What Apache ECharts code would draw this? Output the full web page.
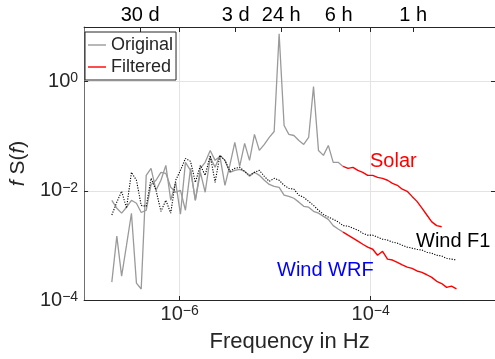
<!DOCTYPE html>
<html><head><meta charset="utf-8">
<script src="https://cdn.jsdelivr.net/npm/echarts@6.0.0/dist/echarts.min.js"></script>
<style>html,body{margin:0;padding:0;background:#fff}#c{width:495px;height:359px}</style>
</head><body><div id="c"></div>
<script>
// Frequency bins (Hz)
const freq = [1.95e-7,2.20e-7,2.47e-7,2.78e-7,3.13e-7,3.53e-7,3.96e-7,4.47e-7,5.02e-7,5.66e-7,
  6.37e-7,7.17e-7,8.07e-7,9.09e-7,1.02e-6,1.15e-6,1.30e-6,1.46e-6,1.65e-6,1.85e-6,
  2.09e-6,2.35e-6,2.64e-6,2.98e-6,3.35e-6,3.78e-6,4.25e-6,4.79e-6,5.39e-6,6.07e-6,
  6.83e-6,7.70e-6,8.67e-6,9.76e-6,1.10e-5,1.24e-5,1.39e-5,1.57e-5,1.77e-5,1.99e-5,
  2.24e-5,2.52e-5,2.84e-5,3.20e-5,3.60e-5,4.05e-5,4.56e-5,5.14e-5,5.79e-5,6.52e-5,
  7.34e-5,8.26e-5,9.30e-5,1.05e-4,1.18e-4,1.33e-4,1.50e-4,1.69e-4,1.90e-4,2.14e-4,
  2.41e-4,2.71e-4,3.05e-4,3.44e-4,3.87e-4,4.36e-4,4.91e-4,5.53e-4,6.23e-4,7.01e-4,7.90e-4];

// f S(f) values
const solarOriginal = [2.13e-4,1.48e-3,2.74e-4,1.01e-3,3.88e-3,2.04e-4,1.59e-4,1.92e-2,2.58e-2,1.02e-2,
  1.56e-2,2.92e-2,6.71e-3,1.43e-2,3.72e-3,3.32e-2,2.37e-2,6.71e-3,2.58e-2,3.32e-2,
  5.49e-2,3.61e-2,4.27e-2,1.26e-2,2.92e-2,7.69e-2,2.80e-2,7.37e-2,3.61e-2,0.108,
  5.49e-2,7.07e-2,9.49e-2,0.122,7.53,0.157,0.108,0.103,0.0837,0.0707,
  0.0949,0.810,0.0549,0.0445,0.0678,0.0332,0.0332,0.0280,null,null,
  null,null,null,null,null,null,null,null,null,null,
  null,null,null,null,null,null,null,null,null,null,null];

const solarFiltered = [null,null,null,null,null,null,null,null,null,null,
  null,null,null,null,null,null,null,null,null,null,
  null,null,null,null,null,null,null,null,null,null,
  null,null,null,null,null,null,null,null,null,null,
  null,null,null,null,null,null,null,0.0280,0.0258,0.0269,
  0.0237,0.0218,0.0192,0.0192,0.0176,0.0169,0.0156,0.0137,0.0126,0.0107,
  0.0098,0.0079,0.0064,0.0048,0.0036,0.0027,0.0023,0.0022,null,null,null];

const windOriginal = [0.0067,0.0048,0.0039,0.0050,0.0067,0.0059,0.0040,0.0044,0.0131,0.0156,
  0.0218,0.0209,0.0116,0.0094,0.0102,0.0044,0.0258,0.0067,0.0218,0.0094,
  0.0409,0.0269,0.0445,0.0361,0.0218,0.0237,0.0247,0.0227,0.0184,0.0218,
  0.0192,0.0156,0.0131,0.0121,0.0116,0.0083,0.0079,0.0073,0.0062,0.0052,
  0.0050,0.0042,0.0039,0.0034,0.0030,0.0023,0.0020,0.00175,null,null,
  null,null,null,null,null,null,null,null,null,null,
  null,null,null,null,null,null,null,null,null,null,null];

const windFiltered = [null,null,null,null,null,null,null,null,null,null,
  null,null,null,null,null,null,null,null,null,null,
  null,null,null,null,null,null,null,null,null,null,
  null,null,null,null,null,null,null,null,null,null,
  null,null,null,null,null,null,null,0.00175,0.00154,0.00136,
  0.00120,0.00105,0.00093,0.00085,0.00066,0.00078,0.00056,0.00054,0.00049,0.00044,
  0.00040,0.00038,0.00034,0.00032,0.00029,0.00026,0.00022,0.00020,0.00017,0.00018,0.00016];

const windF1 = [0.0036,0.0062,0.0098,0.0048,0.0218,0.0156,0.0054,0.0052,0.0169,0.0102,
  0.0042,0.0067,0.0039,0.0156,0.0237,0.0392,0.0346,0.0143,0.0292,0.0192,
  0.0445,0.0143,0.0445,0.0361,0.0227,0.0258,0.0269,0.0227,0.0192,0.0218,
  0.0237,0.0184,0.0149,0.0169,0.0156,0.0126,0.0111,0.0107,0.0083,0.0076,
  0.0064,0.0054,0.0044,0.0037,0.0033,0.0030,0.0027,0.0023,0.00225,0.00207,
  0.0019,0.00167,0.00154,0.00154,0.00142,0.00130,0.00125,0.00115,0.00110,0.00101,
  0.00093,0.00089,0.00085,0.00082,0.00075,0.00072,0.00066,0.00064,0.00058,0.00056,0.00054];

// Tick positions / labels
const bottomTicks = [1e-6, 1e-4];
const leftTicks = [1e-4, 1e-2, 1];
const topTickFreq = [3.858e-7, 3.858e-6, 1.157e-5, 4.630e-5, 2.778e-4];
const topTickLabels = ['30 d', '3 d', '24 h', '6 h', '1 h'];

const FONT = '"Liberation Sans", Arial, Helvetica, sans-serif';
const TXT = '#262626';
const pairs = arr => freq.map((f, i) => [f, arr[i]]).filter(p => p[1] != null);
const supLabel = v => {
  const e = Math.round(Math.log10(v));
  return '{a|10}{b|' + (e < 0 ? '\u2212' + (-e) : String(e)) + '}';
};
const rich = {
  a: {fontSize: 20, fontFamily: FONT, color: TXT, lineHeight: 20},
  b: {fontSize: 14, fontFamily: FONT, color: TXT, lineHeight: 14, verticalAlign: 'top'}
};
const topLabel = v => {
  let best = 0, bd = Infinity;
  topTickFreq.forEach((f, i) => { const d = Math.abs(Math.log10(f) - Math.log10(v)); if (d < bd) { bd = d; best = i; } });
  return topTickLabels[best];
};

const chart = echarts.init(document.getElementById('c'), null, {renderer: 'canvas'});
chart.setOption({
  animation: false,
  backgroundColor: '#fff',
  grid: {left: 80, right: -1, top: 27, bottom: 59, containLabel: false},
  legend: {
    data: [{name: 'Original', icon: 'rect'}, {name: 'Filtered', icon: 'rect'}],
    orient: 'vertical', left: 85, top: 32,
    padding: [3, 3, 3, 3], itemWidth: 18, itemHeight: 1.4, itemGap: 2,
    borderColor: TXT, borderWidth: 1, borderRadius: 0, backgroundColor: '#fff', selectedMode: false,
    textStyle: {fontSize: 18, fontFamily: FONT, color: TXT, lineHeight: 20}
  },
  xAxis: [{
    type: 'log', logBase: 10, min: 1e-7, max: 2e-3, position: 'bottom',
    name: 'Frequency in Hz', nameLocation: 'middle', nameGap: 31,
    nameTextStyle: {fontSize: 22, fontFamily: FONT, color: TXT},
    axisLine: {show: true, lineStyle: {color: TXT, width: 1}},
    axisTick: {show: true, inside: true, length: 4, customValues: bottomTicks, lineStyle: {color: TXT}},
    axisLabel: {customValues: bottomTicks, margin: 4, formatter: supLabel, rich: rich},
    splitLine: {show: true, lineStyle: {color: '#e3e3e3', width: 1}},
    minorTick: {show: false}
  }, {
    type: 'log', logBase: 10, min: 1e-7, max: 2e-3, position: 'top',
    axisLine: {show: true, lineStyle: {color: TXT, width: 1}},
    axisTick: {show: true, inside: true, length: 5, customValues: topTickFreq.concat(bottomTicks), lineStyle: {color: TXT}},
    axisLabel: {customValues: topTickFreq, margin: 2, formatter: topLabel, fontSize: 20, fontFamily: FONT, color: '#000'},
    splitLine: {show: false}
  }],
  yAxis: [{
    type: 'log', logBase: 10, min: 1e-4, max: 10, position: 'left',
    name: '{i|f}{n| S(}{i|f}{n|)}', nameLocation: 'middle', nameGap: 38, nameRotate: 90,
    nameTextStyle: {rich: {
      i: {fontSize: 21, fontFamily: FONT, fontStyle: 'italic', color: TXT},
      n: {fontSize: 21, fontFamily: FONT, color: TXT}
    }},
    axisLine: {show: true, lineStyle: {color: '#707070', width: 1}},
    axisTick: {show: true, inside: true, length: 4, customValues: leftTicks, lineStyle: {color: TXT}},
    axisLabel: {customValues: leftTicks, margin: 6, formatter: supLabel, rich: rich},
    splitLine: {show: true, lineStyle: {color: '#e3e3e3', width: 1}}
  }, {
    type: 'log', logBase: 10, min: 1e-4, max: 10, position: 'right',
    axisLine: {show: true, lineStyle: {color: TXT, width: 1}},
    axisTick: {show: true, inside: true, length: 4, customValues: leftTicks, lineStyle: {color: TXT}},
    axisLabel: {show: false}, splitLine: {show: false}
  }],
  series: [
    {name: 'Original', type: 'line', data: pairs(solarOriginal), symbol: 'none', lineStyle: {color: '#9a9a9a', width: 1.3}, itemStyle: {color: '#9a9a9a'}, z: 2},
    {name: 'Original', type: 'line', data: pairs(windOriginal), symbol: 'none', lineStyle: {color: '#9a9a9a', width: 1.3}, itemStyle: {color: '#9a9a9a'}, z: 2},
    {name: 'Wind F1 data', type: 'line', data: pairs(windF1), symbol: 'none', lineStyle: {color: '#000', width: 1.1, type: [1.2, 1.4]}, itemStyle: {color: '#000'}, z: 3},
    {name: 'Filtered', type: 'line', data: pairs(solarFiltered), symbol: 'none', lineStyle: {color: '#ff0000', width: 1.4}, itemStyle: {color: '#ff0000'}, z: 4},
    {name: 'Filtered', type: 'line', data: pairs(windFiltered), symbol: 'none', lineStyle: {color: '#ff0000', width: 1.4}, itemStyle: {color: '#ff0000'}, z: 4}
  ],
  graphic: [
    {type: 'text', left: 370, top: 151, z: 10, style: {text: 'Solar', fill: '#ff0000', fontSize: 20, fontFamily: FONT}},
    {type: 'text', left: 416, top: 231, z: 10, style: {text: 'Wind F1', fill: '#000', fontSize: 20, fontFamily: FONT}},
    {type: 'text', left: 277, top: 260, z: 10, style: {text: 'Wind WRF', fill: '#0000ff', fontSize: 20, fontFamily: FONT}}
  ]
});
</script>
</body></html>
